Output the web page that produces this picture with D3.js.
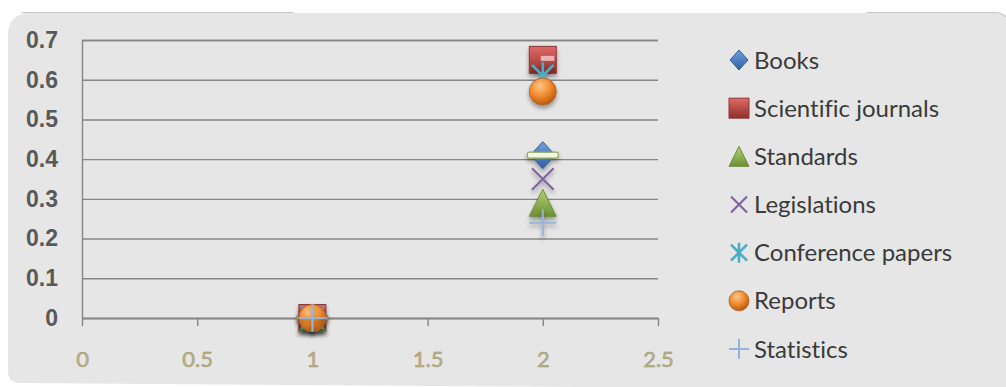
<!DOCTYPE html>
<html>
<head>
<meta charset="utf-8">
<script src="https://cdnjs.cloudflare.com/ajax/libs/d3/7.8.5/d3.min.js"></script>
<style>
  html, body { margin: 0; padding: 0; background: #ffffff; }
  svg { display: block; }
  text { font-variant-ligatures: none; font-feature-settings: "liga" 0, "clig" 0; }
</style>
</head>
<body>
<div id="chart"></div>
<script>
// data
const xValues = [1, 2];
const seriesNames = ["Books", "Scientific journals", "Standards", "Legislations", "Conference papers", "Reports", "Statistics"];
const books = [0, 0.41];
const journals = [0, 0.65];
const standards = [0, 0.29];
const legislations = [0, 0.35];
const conference = [0, 0.61];
const reports = [0, 0.57];
const statistics = [0, 0.24];
const xTicks = [0, 0.5, 1, 1.5, 2, 2.5];
const yTicks = [0, 0.1, 0.2, 0.3, 0.4, 0.5, 0.6, 0.7];

const seriesValues = [books, journals, standards, legislations, conference, reports, statistics];
const markerTypes = ["diamond", "square", "triangle", "x", "asterisk", "circle", "plus"];
const colors = ["#4f81bd", "#c0504d", "#9bbb59", "#8064a2", "#4bacc6", "#f79646", "#95b3d7"];

const w = 1006, h = 387;
const margin = { top: 40, left: 82, right: 348, bottom: 69 };

const svg = d3.select("#chart")
  .append("svg")
  .attr("width", w)
  .attr("height", h);

const defs = svg.append("defs");

// soft shadow under the markers
const shadow = defs.append("filter").attr("id", "shadow")
  .attr("x", "-50%").attr("y", "-50%").attr("width", "200%").attr("height", "200%");
shadow.append("feDropShadow").attr("dx", 0).attr("dy", 3).attr("stdDeviation", 2)
  .attr("flood-color", "#000").attr("flood-opacity", 0.35);

// little gradients to fake the 3d look of the office markers
const lin = (id, c1, c2) => {
  let g = defs.append("linearGradient").attr("id", id)
    .attr("x1", 0).attr("y1", 0).attr("x2", 0).attr("y2", 1);
  g.append("stop").attr("offset", "0%").attr("stop-color", c1);
  g.append("stop").attr("offset", "100%").attr("stop-color", c2);
};
lin("g-books", "#6f9fe0", "#2f5f9e");
lin("g-journals", "#e06a66", "#8e2f2c");
lin("g-standards", "#b3d474", "#6b8f32");
let rg = defs.append("radialGradient").attr("id", "g-reports")
  .attr("cx", "40%").attr("cy", "30%").attr("r", "70%");
rg.append("stop").attr("offset", "0%").attr("stop-color", "#ffc58a");
rg.append("stop").attr("offset", "55%").attr("stop-color", "#f08a2c");
rg.append("stop").attr("offset", "100%").attr("stop-color", "#b35a12");

// panel background
const panel = svg.append("g");
panel.append("path")
  .attr("d", "M8,36 Q8,13 31,13 L996,13 Q1006,14 1010,20 L1010,390 L20,383 Q8,383 8,371 Z")
  .attr("fill", "#e6e6e6");
panel.append("line").attr("x1", 22).attr("x2", 293).attr("y1", 12.5).attr("y2", 12.5)
  .attr("stroke", "#c4c4c4").attr("stroke-width", 1.2);
panel.append("path").attr("d", "M867,12.5 L996,12.5 Q1002,13 1006,17")
  .attr("fill", "none").attr("stroke", "#c4c4c4").attr("stroke-width", 1.2);

let x = d3.scaleLinear().domain([0, 2.5]).range([margin.left, w - margin.right]);
let y = d3.scaleLinear().domain([0, 0.7]).range([h - margin.bottom, margin.top]);

// horizontal grid + y labels
let yAxis = svg.append("g")
  .attr("transform", `translate(${margin.left},0)`)
  .call(d3.axisLeft(y)
    .tickValues(yTicks)
    .tickSize(-(w - margin.right - margin.left))
    .tickPadding(24)
    .tickFormat(d => d3.format("~g")(d)));
yAxis.select(".domain").attr("stroke", "#868686").attr("stroke-width", 1.4);
yAxis.selectAll(".tick line").attr("stroke", "#868686").attr("stroke-width", 1.4);
yAxis.selectAll(".tick text")
  .attr("fill", "#595959")
  .style("font-family", "'Liberation Sans', Arial, sans-serif")
  .style("font-weight", "bold")
  .style("font-size", "23px");

// x axis
let xAxis = svg.append("g")
  .attr("transform", `translate(0,${y(0)})`)
  .call(d3.axisBottom(x)
    .tickValues(xTicks)
    .tickSize(8)
    .tickSizeOuter(0)
    .tickPadding(25)
    .tickFormat(d => d3.format("~g")(d)));
xAxis.select(".domain").attr("stroke", "#868686").attr("stroke-width", 1.4);
xAxis.selectAll(".tick line").attr("stroke", "#868686").attr("stroke-width", 1.4);
xAxis.selectAll(".tick text")
  .attr("fill", "#bdb58b")
  .attr("stroke", "#9a9268")
  .attr("stroke-width", 0.5)
  .style("font-family", "Lato, 'Open Sans', sans-serif")
  .style("font-size", "22px");

// draw one marker of a given type centred on 0,0
const drawMarker = (g, type, color, s, inPlot) => {
  let r = s / 2;
  if (type == "diamond") {
    g.append("path").attr("d", `M0,${-r} L${r * 0.9},0 L0,${r} L${-r * 0.9},0 Z`)
      .attr("fill", "url(#g-books)").attr("stroke", "#385d8a").attr("stroke-width", 1);
    if (inPlot) {
      g.append("rect").attr("x", -r - 2).attr("y", -3).attr("width", s + 4).attr("height", 6)
        .attr("rx", 2).attr("fill", "#f3f6e0").attr("stroke", "#8fa85a").attr("stroke-width", 1.2);
    }
  } else if (type == "square") {
    g.append("rect").attr("x", -r).attr("y", -r).attr("width", s).attr("height", s)
      .attr("fill", "url(#g-journals)").attr("stroke", "#8c3836").attr("stroke-width", 1);
    if (inPlot) {
      g.append("rect").attr("x", -2).attr("y", -4).attr("width", r).attr("height", 5)
        .attr("fill", "#f2c6c4").attr("opacity", 0.85);
    }
  } else if (type == "triangle") {
    g.append("path").attr("d", `M0,${-r} L${r},${r} L${-r},${r} Z`)
      .attr("fill", "url(#g-standards)").attr("stroke", "#71893f").attr("stroke-width", 1);
  } else if (type == "x") {
    g.append("path").attr("d", `M${-r * 0.8},${-r * 0.8} L${r * 0.8},${r * 0.8} M${r * 0.8},${-r * 0.8} L${-r * 0.8},${r * 0.8}`)
      .attr("stroke", color).attr("stroke-width", 2.2).attr("fill", "none");
  } else if (type == "asterisk") {
    g.append("path").attr("d", `M${-r * 0.8},${-r * 0.8} L${r * 0.8},${r * 0.8} M${r * 0.8},${-r * 0.8} L${-r * 0.8},${r * 0.8} M0,${-r} L0,${r}`)
      .attr("stroke", color).attr("stroke-width", 2.6).attr("fill", "none");
  } else if (type == "circle") {
    g.append("circle").attr("r", r)
      .attr("fill", "url(#g-reports)").attr("stroke", "#b66d31").attr("stroke-width", 1);
  } else if (type == "plus") {
    g.append("path").attr("d", `M${-r},0 L${r},0 M0,${-r} L0,${r}`)
      .attr("stroke", color).attr("stroke-width", 2).attr("fill", "none");
  }
};

// points
seriesValues.forEach((vals, i) => {
  let grp = svg.append("g").attr("class", "series").attr("filter", "url(#shadow)");
  grp.selectAll("g.pt")
    .data(vals.map((v, j) => ({ x: xValues[j], y: v })))
    .enter()
    .append("g")
    .attr("class", "pt")
    .attr("transform", d => `translate(${x(d.x)},${y(d.y)})`)
    .each(function () {
      drawMarker(d3.select(this), markerTypes[i], colors[i], 27, true);
    });
});

// legend
let legend = svg.append("g");
let legendRow = d3.scaleLinear().domain([0, seriesNames.length - 1]).range([60, 349]);
seriesNames.forEach((name, i) => {
  let item = legend.append("g").attr("transform", `translate(739,${legendRow(i)})`);
  drawMarker(item.append("g"), markerTypes[i], colors[i], 20, false);
  item.append("text")
    .attr("x", 15)
    .attr("dy", "0.36em")
    .attr("fill", "#3a3a3a")
    .style("font-family", "Lato, 'Open Sans', sans-serif")
    .style("font-size", "24px")
    .style("font-variant-ligatures", "none")
    .text(name);
});
</script>
</body>
</html>
